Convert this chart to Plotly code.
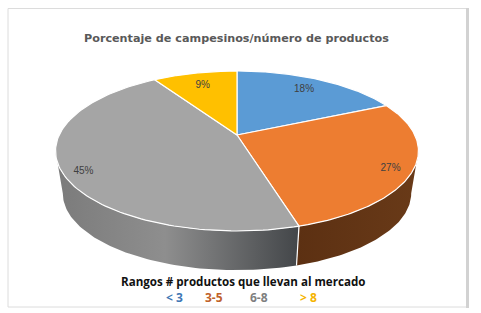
import numpy as np
import plotly.graph_objects as go

categories = ["< 3", "3-5", "6-8", "> 8"]
values = [2, 3, 5, 1]
label_radius = [0.79, 0.88, 0.88, 0.79]
top_colors = ["#5b9bd5", "#ed7d31", "#a5a5a5", "#ffc000"]
legend_colors = ["#3f78b5", "#c0622a", "#7f7f7f", "#f5b400"]
wall_scales = {
    1: [[0, "#5c3012"], [1, "#693a18"]],
    2: [[0, "#7b7b7b"], [0.45, "#8e8e8e"], [1, "#434649"]],
}
title_text = "Porcentaje de campesinos/número de productos"
legend_title = "Rangos # productos que llevan al mercado"

CX, CY, A, C, P = 237.0, 135.0, 177.8, 76.8, 0.2
DROP, SHRINK = 43.0, 0.96


def project(theta, r=1.0):
    x = r * np.sin(theta)
    y = r * np.cos(theta)
    w = 1 + P * y
    return A * x / w, C * y / w


def top_pt(theta, r=1.0):
    X, Y = project(theta, r)
    return CX + X, CY - Y


def low_pt(theta):
    X, Y = project(theta)
    return CX + SHRINK * X, CY + DROP - SHRINK * Y


fractions = np.array(values) / sum(values)
edges = np.concatenate([[0], np.cumsum(fractions)]) * 2 * np.pi
VIS0, VIS1 = np.radians(101.5), np.radians(258.5)

fig = go.Figure()

# side walls
for i, scale in wall_scales.items():
    a, b = max(edges[i], VIS0), min(edges[i + 1], VIS1)
    t = np.linspace(a, b, 80)
    xt, yt = top_pt(t)
    xl, yl = low_pt(t[::-1])
    fig.add_trace(go.Scatter(
        x=np.concatenate([xt, xl]), y=np.concatenate([yt, yl]),
        mode="lines", line=dict(width=0), fill="toself",
        fillgradient=dict(type="horizontal", colorscale=scale),
        hoverinfo="skip", showlegend=False))

# white seam on the front wall
xa, ya = top_pt(edges[2])
xb, yb = low_pt(edges[2])
fig.add_trace(go.Scatter(x=[xa, xb], y=[ya, yb], mode="lines",
                         line=dict(color="#ffffff", width=1.2),
                         hoverinfo="skip", showlegend=False))

# top face
for i in range(len(values)):
    t = np.linspace(edges[i], edges[i + 1], 120)
    xs, ys = top_pt(t)
    fig.add_trace(go.Scatter(
        x=np.concatenate([[CX], xs, [CX]]), y=np.concatenate([[CY], ys, [CY]]),
        mode="lines", line=dict(color="#ffffff", width=1.2),
        fill="toself", fillcolor=top_colors[i], name=categories[i],
        hoverinfo="skip", showlegend=False))

# percent labels
mids = (edges[:-1] + edges[1:]) / 2
lx, ly = top_pt(mids, np.array(label_radius))
fig.add_trace(go.Scatter(
    x=lx, y=ly + np.array([0, 3, 6, 1]), mode="text",
    text=[f"{f * 100:.0f}%" for f in fractions],
    textfont=dict(family="Liberation Sans", size=10, color="#404040"),
    hoverinfo="skip", showlegend=False))

# chart frame
frame_x = [8, 467, 467, 8, 8]
frame_y = [8.5, 8.5, 307, 307, 8.5]
fig.add_trace(go.Scatter(x=frame_x, y=frame_y, mode="lines",
                         line=dict(color="#dcdcdc", width=1),
                         hoverinfo="skip", showlegend=False))
fig.add_trace(go.Scatter(x=[467.5, 467.5], y=[8, 308], mode="lines",
                         line=dict(color="#d2d2d2", width=3),
                         hoverinfo="skip", showlegend=False))

annotations = [
    dict(x=236.5, y=38, text=f"<b>{title_text}</b>", showarrow=False, xref="x", yref="y",
         font=dict(family="DejaVu Sans", size=11.2, color="#595959")),
    dict(x=242.5, y=281, text=f"<b>{legend_title}</b>", showarrow=False, xref="x", yref="y",
         font=dict(family="Open Sans", size=11.6, color="#111111")),
]
for cat, col, px in zip(categories, legend_colors, [174, 213.5, 258.5, 308]):
    annotations.append(dict(x=px, y=297, text=f"<b>{cat}</b>", showarrow=False,
                            xref="x", yref="y",
                            font=dict(family="Open Sans", size=12, color=col)))

fig.update_layout(
    width=481, height=313, margin=dict(l=0, r=0, t=0, b=0),
    paper_bgcolor="#ffffff", plot_bgcolor="#ffffff", showlegend=False,
    xaxis=dict(range=[0, 481], visible=False, fixedrange=True),
    yaxis=dict(range=[313, 0], visible=False, fixedrange=True),
    annotations=annotations,
)
fig.write_html("out.html", config={"displayModeBar": False},
               post_script="document.body.style.margin='0';document.body.style.overflow='hidden';")
